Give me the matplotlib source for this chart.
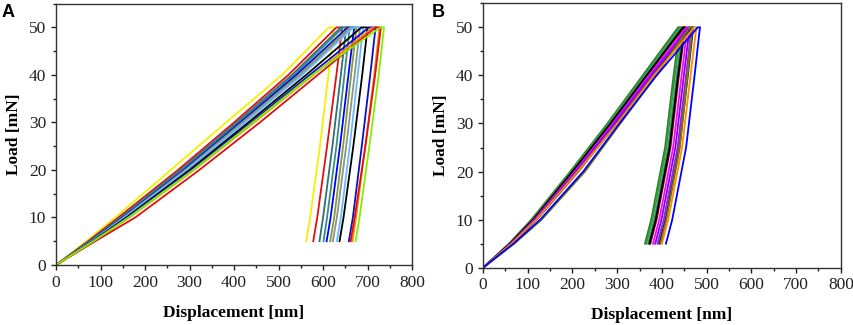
import matplotlib
matplotlib.use("Agg")
import matplotlib.pyplot as plt
from matplotlib.ticker import MultipleLocator

load_up = [0, 5, 10, 20, 30, 40, 50]
load_down = [50, 40, 25, 10, 5]

# Panel A: depth (nm) on loading, end of hold at 50 mN, depth on unloading
colors_a = ["#f5f000", "#e01010", "#2f6f6f", "#3a8a8a", "#0000ff", "#7aa030", "#909090",
            "#66bbff", "#000000", "#0a10c0", "#ff8000", "#e01010", "#80f000"]
loading_a = [
    [0, 68, 133, 258, 382, 508, 613],
    [0, 72, 140, 274, 400, 522, 630],
    [0, 75, 145, 280, 406, 530, 640],
    [0, 76, 147, 283, 410, 535, 645],
    [0, 77, 150, 287, 414, 540, 655],
    [0, 79, 152, 290, 418, 546, 660],
    [0, 80, 153, 292, 421, 550, 663],
    [0, 80, 154, 294, 424, 553, 668],
    [0, 82, 158, 300, 432, 562, 686],
    [0, 83, 160, 304, 438, 570, 703],
    [0, 85, 165, 310, 445, 578, 712],
    [0, 88, 178, 322, 458, 588, 718],
    [0, 84, 163, 308, 442, 576, 729],
]
hold_a = [624, 643, 652, 660, 670, 675, 683, 690, 700, 718, 727, 730, 737]
unloading_a = [
    [624, 612, 593, 571, 562],
    [643, 630, 609, 587, 578],
    [652, 640, 621, 600, 592],
    [660, 648, 630, 609, 601],
    [670, 657, 638, 617, 608],
    [675, 663, 645, 625, 616],
    [683, 671, 652, 631, 622],
    [690, 678, 660, 640, 631],
    [700, 688, 668, 646, 637],
    [718, 706, 687, 667, 658],
    [727, 715, 695, 674, 666],
    [730, 717, 695, 671, 662],
    [737, 725, 704, 682, 673],
]

# Panel B
colors_b = ["#2e7d2e", "#33a02c", "#3c8c7c", "#8b0000", "#000000", "#ff00ff", "#8000ff",
            "#a020c0", "#1a1a8c", "#7a7a00", "#ff8c00", "#0000ff"]
loading_b = [
    [0, 58, 108, 195, 278, 357, 436],
    [0, 59, 110, 197, 280, 360, 440],
    [0, 60, 111, 199, 283, 363, 444],
    [0, 61, 113, 202, 286, 367, 449],
    [0, 60, 112, 200, 285, 366, 447],
    [0, 62, 115, 205, 290, 371, 455],
    [0, 63, 117, 208, 293, 375, 460],
    [0, 64, 118, 210, 296, 378, 463],
    [0, 65, 120, 213, 299, 381, 466],
    [0, 70, 131, 228, 307, 387, 462],
    [0, 64, 119, 212, 300, 382, 472],
    [0, 68, 128, 224, 305, 388, 480],
]
hold_b = [440, 444, 448, 452, 451, 457, 462, 466, 470, 468, 477, 485]
unloading_b = [
    [440, 426, 407, 376, 362],
    [444, 429, 410, 379, 365],
    [448, 433, 414, 383, 369],
    [452, 438, 419, 388, 374],
    [451, 436, 417, 386, 372],
    [457, 444, 425, 394, 380],
    [462, 449, 430, 399, 385],
    [466, 454, 435, 404, 390],
    [470, 458, 439, 408, 394],
    [468, 457, 440, 410, 397],
    [477, 464, 445, 414, 400],
    [485, 473, 454, 423, 409],
]

plt.rcParams['font.family'] = ['Liberation Serif', 'DejaVu Serif']

fig = plt.figure(figsize=(8.54, 3.25), dpi=100)
ax_a = fig.add_axes([0.0656, 0.1846, 0.4169, 0.804])
ax_b = fig.add_axes([0.5656, 0.1763, 0.419, 0.8135])


def draw_panel(ax, colors, loading, hold, unloading):
    for c, up, h, down in zip(colors, loading, hold, unloading):
        xs = list(up) + [h] + list(down)
        ys = list(load_up) + [50] + list(load_down)
        ax.plot(xs, ys, color=c, lw=1.3, solid_joinstyle='miter')
    ax.set_xlim(0, 800)
    ax.set_ylim(0, 55)
    ax.xaxis.set_major_locator(MultipleLocator(100))
    ax.xaxis.set_minor_locator(MultipleLocator(50))
    ax.yaxis.set_major_locator(MultipleLocator(10))
    ax.yaxis.set_minor_locator(MultipleLocator(5))
    ax.tick_params(which='major', direction='out', length=3.5, width=1, labelsize=12.5, colors='#222222')
    ax.tick_params(which='minor', direction='out', length=2.5, width=1, colors='#222222')
    for s in ax.spines.values():
        s.set_linewidth(1)
        s.set_color('#333333')
    ax.set_xlabel('Displacement [nm]', fontsize=12.5, fontweight='bold', labelpad=10)
    ax.set_ylabel('Load [mN]', fontsize=12.5, fontweight='bold', labelpad=5)


draw_panel(ax_a, colors_a, loading_a, hold_a, unloading_a)
draw_panel(ax_b, colors_b, loading_b, hold_b, unloading_b)

fig.text(0.002, 0.988, 'A', family='Liberation Sans', fontweight='bold', fontsize=13, va='top')
fig.text(0.505, 0.988, 'B', family='Liberation Sans', fontweight='bold', fontsize=13, va='top')

fig.savefig('out.png', dpi=100)
